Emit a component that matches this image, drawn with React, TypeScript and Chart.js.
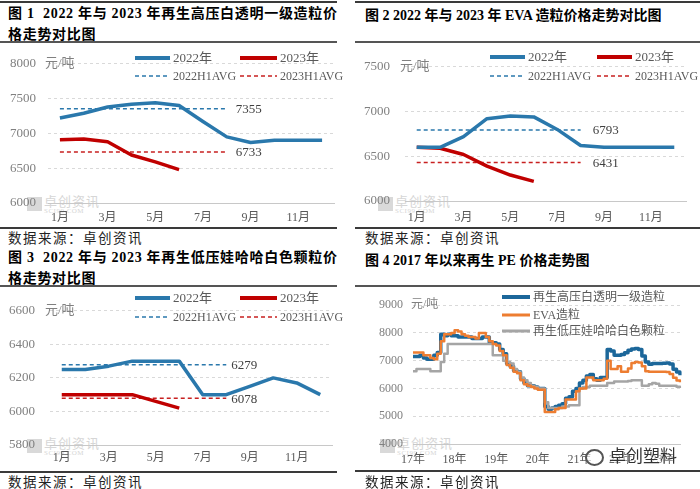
import React, { useEffect, useRef } from 'react';
import { Chart, registerables } from 'chart.js';

Chart.register(...registerables);

const SERIF = "'Liberation Serif', 'Noto Sans CJK SC', serif";
const CJK = "'Noto Sans CJK SC', sans-serif";

const BLUE = '#2a78ac';
const RED = '#c00000';
const BLUE4 = '#1c679a';
const ORANGE = '#ed7d31';
const GRAY = '#a5a5a5';

// ---------- data ----------
const monthLabels = ['1月', '2月', '3月', '4月', '5月', '6月', '7月', '8月', '9月', '10月', '11月', '12月'];

// Fig 1: 再生高压白透明一级造粒
const hp2022 = [7220, 7290, 7380, 7420, 7440, 7400, 7170, 6950, 6870, 6900, 6900, 6900];
const hp2023 = [6910, 6920, 6880, 6690, 6590, 6480];
const hpAvg2022 = 7355;
const hpAvg2023 = 6733;

// Fig 2: EVA造粒
const eva2022 = [6600, 6600, 6720, 6920, 6950, 6940, 6800, 6620, 6600, 6600, 6600, 6600];
const eva2023 = [6600, 6590, 6520, 6390, 6290, 6220];
const evaAvg2022 = 6793;
const evaAvg2023 = 6431;

// Fig 3: 再生低压娃哈哈白色颗粒
const lp2022 = [6250, 6250, 6270, 6300, 6300, 6300, 6100, 6100, 6150, 6200, 6170, 6100];
const lp2023 = [6100, 6100, 6100, 6100, 6060, 6020];
const lpAvg2022 = 6279;
const lpAvg2023 = 6078;

// Fig 4: monthly, Jan 2017 – Jun 2023
const yearTickLabels = ['17年', '18年', '19年', '20年', '21年', '22年', '23年'];
const hpHistory = [
  7150, 7150, 7200, 7100, 7050, 7050, 7200, 7300, 7950, 7900,
  7950, 7900, 7900, 7850, 7850, 7850, 7850, 7800, 7800, 7800,
  7850, 7850, 7650, 7650, 7600, 7400, 7250, 6900, 6800, 6650,
  6600, 6350, 6200, 6100, 6100, 6050, 6000, 6000, 5350, 5250,
  5300, 5350, 5400, 5450, 5650, 5700, 5900, 6000, 6200, 6300,
  6450, 6500, 6350, 6300, 6400, 6400, 7400, 7350, 7200, 7200,
  7220, 7290, 7380, 7420, 7440, 7400, 7170, 6950, 6870, 6900,
  6900, 6900, 6910, 6920, 6880, 6690, 6590, 6480,
];
const evaHistory = [
  7300, 7300, 7300, 7200, 7200, 7100, 7050, 7250, 7700, 7950,
  7950, 8000, 8100, 8050, 7950, 7900, 7850, 7850, 7800, 8000,
  8000, 7850, 7700, 7600, 7550, 7350, 7200, 6850, 6750, 6600,
  6550, 6300, 6150, 6100, 6050, 6000, 5950, 5950, 5150, 5150,
  5150, 5250, 5300, 5300, 5600, 5600, 5600, 5900, 6000, 6000,
  6400, 6400, 6300, 6300, 6300, 6350, 7000, 6700, 6700, 6800,
  6600, 6600, 6720, 6920, 6950, 6940, 6800, 6620, 6600, 6600,
  6600, 6600, 6600, 6590, 6520, 6390, 6290, 6220,
];
const lpHistory = [
  6620, 6700, 6700, 6700, 6700, 6620, 6620, 6620, 6950, 7250,
  7600, 7600, 7600, 7600, 7600, 7600, 7600, 7600, 7600, 7600,
  7600, 7600, 7600, 7200, 7200, 7200, 7000, 6950, 6900, 6700,
  6600, 6400, 6300, 6200, 6100, 6050, 6000, 6000, 5500, 5300,
  5300, 5300, 5300, 5350, 5350, 5400, 5400, 5400, 6000, 6050,
  6050, 6100, 6100, 6100, 6100, 6100, 6200, 6200, 6250, 6250,
  6250, 6250, 6270, 6300, 6300, 6300, 6100, 6100, 6150, 6200,
  6170, 6100, 6100, 6100, 6100, 6100, 6060, 6020,
];
const historyLabels = hpHistory.map((_, i) => `${2017 + Math.floor(i / 12)}-${(i % 12) + 1}`);

const avgSpan = 8; // H1 average line drawn over Jan–Aug
const avgLine = (v: number) => monthLabels.map((_, i) => (i < avgSpan ? v : null));

// ---------- overlay plugin (legend, unit, average labels) ----------
type LegendItem = { x1: number; x2: number; y: number; color: string; width: number; dash?: number[]; label: string; font: number };
type Note = { index: number; value: number; text: string; dx: number };

function overlay(legend: LegendItem[], unitX: number, notes: Note[], unitSize: number) {
  return {
    id: 'overlay',
    afterDraw(chart: any) {
      const ctx = chart.ctx;
      const { top } = chart.chartArea;
      ctx.save();
      ctx.fillStyle = '#808080';
      ctx.font = `${unitSize}px ${SERIF}`;
      ctx.textBaseline = 'middle';
      ctx.textAlign = 'left';
      ctx.fillText('元/吨', unitX, top);
      for (const it of legend) {
        ctx.beginPath();
        ctx.strokeStyle = it.color;
        ctx.lineWidth = it.width;
        ctx.setLineDash(it.dash || []);
        ctx.moveTo(it.x1, it.y);
        ctx.lineTo(it.x2, it.y);
        ctx.stroke();
        ctx.setLineDash([]);
        ctx.fillStyle = '#595959';
        ctx.font = `${it.font}px ${SERIF}`;
        ctx.fillText(it.label, it.x2 + 3, it.y + 0.5);
      }
      const xs = chart.scales.x;
      const ys = chart.scales.y;
      for (const n of notes) {
        ctx.fillStyle = '#404040';
        ctx.font = `13px ${SERIF}`;
        ctx.fillText(n.text, xs.getPixelForValue(n.index) + n.dx, ys.getPixelForValue(n.value) + 1);
      }
      ctx.restore();
    },
  };
}

type OptP = {
  yMin: number; yMax: number; yStep: number; yw: number; xh: number; padTop: number; padRight: number;
  yPad: number; xPad: number; offset: boolean; yFont: number; xFont: number; xCallback: (v: any, i: number) => string;
};

function lineOptions(p: OptP): any {
  return {
    animation: false,
    responsive: false,
    maintainAspectRatio: false,
    events: [],
    layout: { padding: { top: p.padTop, right: p.padRight, left: 0, bottom: 0 } },
    plugins: { legend: { display: false }, tooltip: { enabled: false } },
    elements: { point: { radius: 0 }, line: { tension: 0, borderCapStyle: 'butt', borderJoinStyle: 'round' } },
    scales: {
      x: {
        type: 'category',
        offset: p.offset,
        grid: { display: false, drawTicks: false },
        border: { display: true, color: '#c8c8c8', width: 1 },
        ticks: {
          autoSkip: false, maxRotation: 0, minRotation: 0, padding: p.xPad, color: '#595959',
          font: { family: SERIF, size: p.xFont }, callback: p.xCallback,
        },
        afterFit: (s: any) => { s.height = p.xh; },
      },
      y: {
        min: p.yMin,
        max: p.yMax,
        grid: { color: '#d9d9d9', lineWidth: 1, drawTicks: false },
        border: { display: false, dash: [3, 3] },
        ticks: { stepSize: p.yStep, padding: p.yPad, color: '#808080', font: { family: SERIF, size: p.yFont }, callback: (v: any) => String(v) },
        afterFit: (s: any) => { s.width = p.yw; },
      },
    },
  };
}

function ChartBox({ x, y, w, h, make }: { x: number; y: number; w: number; h: number; make: () => any }) {
  const ref = useRef<HTMLCanvasElement | null>(null);
  useEffect(() => {
    if (!ref.current) return;
    const chart = new Chart(ref.current, make());
    return () => chart.destroy();
  }, []);
  return (
    <canvas ref={ref} width={w} height={h} style={{ position: 'absolute', left: x, top: y, width: w, height: h }} />
  );
}

const oddMonths = (_v: any, i: number) => (i % 2 === 0 ? monthLabels[i] : '');

function compareConfig(a22: number[], a23: number[], avg22: number, avg23: number, opt: OptP, legend: LegendItem[], unitX: number, noteDx: number) {
  return {
    type: 'line',
    data: {
      labels: monthLabels,
      datasets: [
        { label: '2022年', data: a22, borderColor: BLUE, borderWidth: 3.5 },
        { label: '2023年', data: a23, borderColor: RED, borderWidth: 3.5 },
        { label: '2022H1AVG', data: avgLine(avg22), borderColor: BLUE, borderWidth: 1.5, borderDash: [4, 3] },
        { label: '2023H1AVG', data: avgLine(avg23), borderColor: '#c82020', borderWidth: 1.5, borderDash: [4, 3] },
      ],
    },
    options: lineOptions(opt),
    plugins: [
      overlay(
        legend,
        unitX,
        [
          { index: avgSpan - 1, value: avg22, text: String(avg22), dx: noteDx },
          { index: avgSpan - 1, value: avg23, text: String(avg23), dx: noteDx },
        ],
        13,
      ),
    ],
  };
}

function legend4(x1: number, x2: number, x3: number, x4: number, y1: number, y2: number): LegendItem[] {
  return [
    { x1, x2, y: y1, color: BLUE, width: 4, label: '2022年', font: 13 },
    { x1: x3, x2: x4, y: y1, color: RED, width: 4, label: '2023年', font: 13 },
    { x1, x2, y: y2, color: BLUE, width: 1.5, dash: [4, 3], label: '2022H1AVG', font: 12 },
    { x1: x3, x2: x4, y: y2, color: '#c82020', width: 1.5, dash: [4, 3], label: '2023H1AVG', font: 12 },
  ];
}

function makeFig1() {
  return compareConfig(hp2022, hp2023, hpAvg2022, hpAvg2023,
    { yMin: 6000, yMax: 8000, yStep: 500, yw: 48, xh: 24, padTop: 16, padRight: 11, yPad: 12, xPad: 8, offset: true, yFont: 13, xFont: 12, xCallback: oddMonths },
    legend4(135, 170, 240, 277, 14, 32), 45, 9);
}
function makeFig2() {
  return compareConfig(eva2022, eva2023, evaAvg2022, evaAvg2023,
    { yMin: 6000, yMax: 7500, yStep: 500, yw: 55, xh: 26, padTop: 15, padRight: 14, yPad: 15, xPad: 10, offset: true, yFont: 13, xFont: 12, xCallback: oddMonths },
    legend4(140, 175, 247, 282, 13, 32), 50, 12);
}
function makeFig3() {
  return compareConfig(lp2022, lp2023, lpAvg2022, lpAvg2023,
    { yMin: 5800, yMax: 6600, yStep: 200, yw: 50, xh: 26, padTop: 10, padRight: 13, yPad: 15, xPad: 6, offset: true, yFont: 13, xFont: 12, xCallback: oddMonths },
    legend4(135, 170, 240, 277, 10, 29), 45, 5);
}
function makeFig4() {
  const opt = lineOptions({
    yMin: 4000, yMax: 9000, yStep: 1000, yw: 63, xh: 27, padTop: 11, padRight: 20, yPad: 10, xPad: 9, offset: false, yFont: 12, xFont: 12,
    xCallback: (_v: any, i: number) => (i % 12 === 0 ? yearTickLabels[i / 12] : ''),
  });
  return {
    type: 'line',
    data: {
      labels: historyLabels,
      datasets: [
        { label: '再生高压白透明一级造粒', data: hpHistory, borderColor: BLUE4, borderWidth: 3.5, stepped: true, order: 2 },
        { label: 'EVA造粒', data: evaHistory, borderColor: ORANGE, borderWidth: 2.5, stepped: true, order: 0 },
        { label: '再生低压娃哈哈白色颗粒', data: lpHistory, borderColor: GRAY, borderWidth: 2.5, stepped: true, order: 1 },
      ],
    },
    options: opt,
    plugins: [
      overlay(
        [
          { x1: 152, x2: 180, y: 9, color: BLUE4, width: 4, label: '再生高压白透明一级造粒', font: 12 },
          { x1: 152, x2: 180, y: 27, color: ORANGE, width: 3, label: 'EVA造粒', font: 12 },
          { x1: 152, x2: 180, y: 43, color: GRAY, width: 3, label: '再生低压娃哈哈白色颗粒', font: 12 },
        ],
        61,
        [],
        12,
      ),
    ],
  };
}

// ---------- page furniture ----------
function Rule({ x, y, w, h, color = '#3a3a3a' }: { x: number; y: number; w: number; h: number; color?: string }) {
  return <div style={{ position: 'absolute', left: x, top: y, width: w, height: h, background: color }} />;
}

function Title({ x, y, lines, spacing = 0 }: { x: number; y: number; lines: string[]; spacing?: number }) {
  return (
    <div style={{ position: 'absolute', left: x, top: y, fontFamily: SERIF, fontWeight: 'bold', fontSize: 14, lineHeight: '21px', letterSpacing: spacing, color: '#000', whiteSpace: 'pre' }}>
      {lines.map((l, i) => <div key={i}>{l}</div>)}
    </div>
  );
}

function Source({ x, y }: { x: number; y: number }) {
  return (
    <div style={{ position: 'absolute', left: x, top: y, fontFamily: CJK, fontSize: 13.5, lineHeight: '16px', letterSpacing: 1.5, color: '#222', whiteSpace: 'pre' }}>
      数据来源：卓创资讯
    </div>
  );
}

function Watermark({ x, y }: { x: number; y: number }) {
  return (
    <div style={{ position: 'absolute', left: x, top: y, width: 80, height: 18 }}>
      <div style={{ position: 'absolute', left: 0, top: 2, width: 15, height: 14, background: '#d9d9d9' }} />
      <div style={{ position: 'absolute', left: 17, top: -1, fontFamily: CJK, fontSize: 13, lineHeight: '14px', color: '#d6d6d6', letterSpacing: 1 }}>卓创资讯</div>
      <div style={{ position: 'absolute', left: 17, top: 12, fontFamily: SERIF, fontSize: 7, lineHeight: '8px', color: '#d6d6d6', letterSpacing: 0.5 }}>SCI99.COM</div>
    </div>
  );
}

export default function App() {
  return (
    <div style={{ position: 'absolute', left: 0, top: 0, width: 700, height: 489, background: '#fff', overflow: 'hidden' }}>
      {/* Figure 1 */}
      <Rule x={0} y={1} w={337} h={2} />
      <Title x={8} y={3} spacing={0.7} lines={['图 1  2022 年与 2023 年再生高压白透明一级造粒价', '格走势对比图']} />
      <Rule x={0} y={41} w={337} h={2} color="#555" />
      <Watermark x={27} y={195} />
      <ChartBox x={0} y={44} w={345} h={183} make={makeFig1} />
      <Rule x={0} y={227} w={337} h={2} />
      <Source x={8} y={229} />

      {/* Figure 2 */}
      <Rule x={355} y={1} w={345} h={2} />
      <Title x={365} y={5} lines={['图 2 2022 年与 2023 年 EVA 造粒价格走势对比图']} />
      <Rule x={355} y={41} w={345} h={2} color="#555" />
      <Watermark x={378} y={195} />
      <ChartBox x={350} y={44} w={350} h={183} make={makeFig2} />
      <Rule x={355} y={227} w={345} h={2} />
      <Source x={365} y={229} />

      {/* Figure 3 */}
      <Title x={8} y={247} spacing={0.7} lines={['图 3  2022 年与 2023 年再生低压娃哈哈白色颗粒价', '格走势对比图']} />
      <Rule x={0} y={285} w={337} h={2} color="#555" />
      <Watermark x={27} y={437} />
      <ChartBox x={0} y={288} w={345} h={183} make={makeFig3} />
      <Rule x={0} y={471} w={337} h={2} />
      <Source x={8} y={473} />

      {/* Figure 4 */}
      <Title x={365} y={250} lines={['图 4 2017 年以来再生 PE 价格走势图']} />
      <Rule x={355} y={285} w={345} h={2} color="#555" />
      <Watermark x={380} y={437} />
      <ChartBox x={350} y={288} w={350} h={183} make={makeFig4} />
      <Rule x={355} y={470} w={345} h={2} />
      <Source x={365} y={473} />

      {/* WeChat account watermark */}
      <div style={{ position: 'absolute', left: 585, top: 449, width: 15, height: 13, border: '2px solid #555', borderRadius: '50%', background: 'rgba(255,255,255,0.6)' }} />
      <div style={{ position: 'absolute', left: 609, top: 445, fontFamily: CJK, fontSize: 17, lineHeight: '20px', color: '#333', textShadow: '0 0 2px #fff, 0 0 2px #fff' }}>卓创塑料</div>
    </div>
  );
}
